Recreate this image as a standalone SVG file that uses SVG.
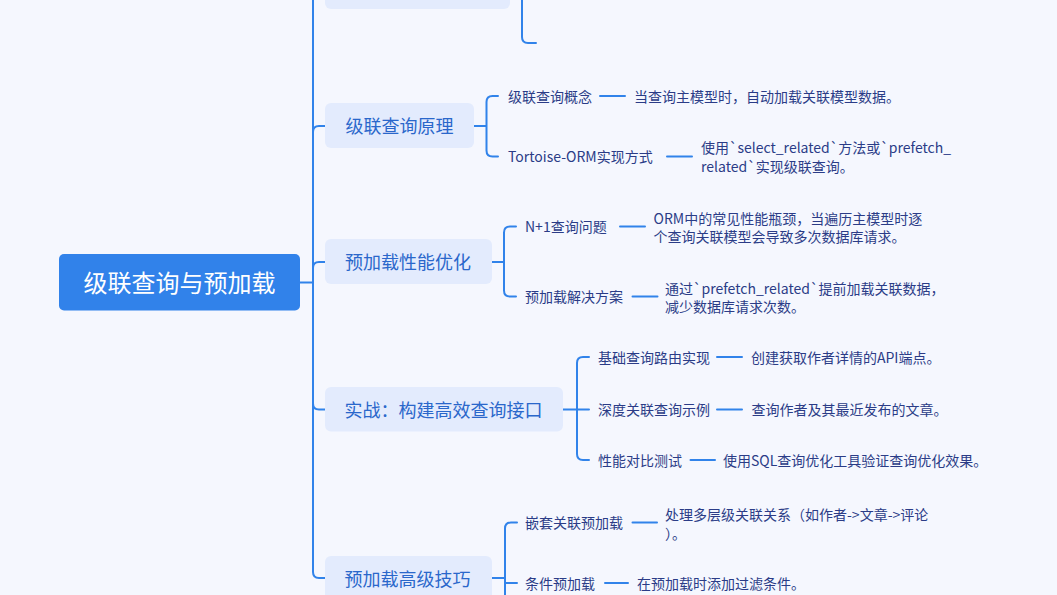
<svg xmlns="http://www.w3.org/2000/svg" width="1057" height="595" viewBox="0 0 1057 595">
<style>
.ln{fill:none;stroke:#3183EA;stroke-width:2;stroke-linecap:round}
.box{fill:#E3EBFD}
.bt{font-family:"Noto Sans CJK SC","Noto Sans",sans-serif;font-size:18px;fill:#2A67CB;dominant-baseline:central}
.ct{font-family:"Noto Sans CJK SC","Noto Sans",sans-serif;font-size:14px;fill:#2B3C87;dominant-baseline:central}
.rt{font-family:"Noto Sans CJK SC","Noto Sans",sans-serif;font-size:24px;fill:#FFFFFF;dominant-baseline:central;text-anchor:middle}
</style>
<rect width="1057" height="595" fill="#F5F7FE"/>
<g id="connectors">
<path class="ln" d="M300 282.5 H313"/>
<path class="ln" d="M313 -60 V572 Q313 578 319 578 H325"/>
<path class="ln" d="M313 132 Q313 126 319 126 H325"/>
<path class="ln" d="M313 268 Q313 262 319 262 H325"/>
<path class="ln" d="M313 403.5 Q313 409.5 319 409.5 H325"/>
<path class="ln" d="M510 -13 H522 M522 -40 V37 Q522 43 528 43 H536"/>
<path class="ln" d="M474 126 H486.5 M498 96 H492.5 Q486.5 96 486.5 102 V150.5 Q486.5 156.5 492.5 156.5 H498"/>
<path class="ln" d="M492 262 H504 M516 226.5 H510 Q504 226.5 504 232.5 V290.5 Q504 296.5 510 296.5 H516"/>
<path class="ln" d="M563 409.5 H589 M589 357 H583 Q577 357 577 363 V454 Q577 460 583 460 H589"/>
<path class="ln" d="M492 578 H505 M517 522.5 H511 Q505 522.5 505 528.5 V620 M505 583 H517"/>
<path class="ln" d="M600 96 H625"/>
<path class="ln" d="M667 156.5 H692"/>
<path class="ln" d="M620 226.5 H645"/>
<path class="ln" d="M632.5 296.5 H657.5"/>
<path class="ln" d="M717 357 H742"/>
<path class="ln" d="M717 409.5 H742"/>
<path class="ln" d="M690.5 460 H715"/>
<path class="ln" d="M632.5 522.5 H657"/>
<path class="ln" d="M605 583 H628"/>
</g>
<g id="root">
<rect x="59" y="254" width="241" height="56.5" rx="5" fill="#3182EA"/>
<text class="rt" x="179.5" y="281.5">级联查询与预加载</text>
</g>
<g id="branch0">
<rect class="box" x="325" y="-36" width="185" height="45" rx="6"/>
</g>
<g id="branch1">
<rect class="box" x="325" y="103" width="149" height="45" rx="6"/>
<text class="bt" x="345.5" y="125">级联查询原理</text>
</g>
<g id="branch2">
<rect class="box" x="325" y="239" width="167" height="45" rx="6"/>
<text class="bt" x="345" y="261">预加载性能优化</text>
</g>
<g id="branch3">
<rect class="box" x="325" y="387" width="238" height="44.5" rx="6"/>
<text class="bt" x="344.5" y="408.5">实战：构建高效查询接口</text>
</g>
<g id="branch4">
<rect class="box" x="325" y="556" width="167" height="60" rx="6"/>
<text class="bt" x="344.5" y="578">预加载高级技巧</text>
</g>
<g id="c1a"><text class="ct" x="508" y="95.5">级联查询概念</text></g>
<g id="l1a"><text class="ct" x="634" y="95.5">当查询主模型时，自动加载关联模型数据。</text></g>
<g id="c1b"><text class="ct" x="508" y="156">Tortoise-ORM实现方式</text></g>
<g id="l1b"><text class="ct" x="701" y="146.5">使用`select_related`方法或`prefetch_</text><text class="ct" x="701" y="165.5">related`实现级联查询。</text></g>
<g id="c2a"><text class="ct" x="525" y="226">N+1查询问题</text></g>
<g id="l2a"><text class="ct" x="653.5" y="217.5">ORM中的常见性能瓶颈，当遍历主模型时逐</text><text class="ct" x="653.5" y="236">个查询关联模型会导致多次数据库请求。</text></g>
<g id="c2b"><text class="ct" x="525" y="296">预加载解决方案</text></g>
<g id="l2b"><text class="ct" x="665" y="287.5">通过`prefetch_related`提前加载关联数据，</text><text class="ct" x="665" y="306">减少数据库请求次数。</text></g>
<g id="c3a"><text class="ct" x="598" y="356.5">基础查询路由实现</text></g>
<g id="l3a"><text class="ct" x="751" y="356.5">创建获取作者详情的API端点。</text></g>
<g id="c3b"><text class="ct" x="598" y="409">深度关联查询示例</text></g>
<g id="l3b"><text class="ct" x="751.5" y="409">查询作者及其最近发布的文章。</text></g>
<g id="c3c"><text class="ct" x="598" y="459.5">性能对比测试</text></g>
<g id="l3c"><text class="ct" x="723" y="459.5">使用SQL查询优化工具验证查询优化效果。</text></g>
<g id="c4a"><text class="ct" x="525" y="522">嵌套关联预加载</text></g>
<g id="l4a"><text class="ct" x="665" y="513.5">处理多层级关联关系（如作者-&gt;文章-&gt;评论</text><text class="ct" x="665" y="532.5">）。</text></g>
<g id="c4b"><text class="ct" x="525" y="583">条件预加载</text></g>
<g id="l4b"><text class="ct" x="637" y="583">在预加载时添加过滤条件。</text></g>
</svg>
